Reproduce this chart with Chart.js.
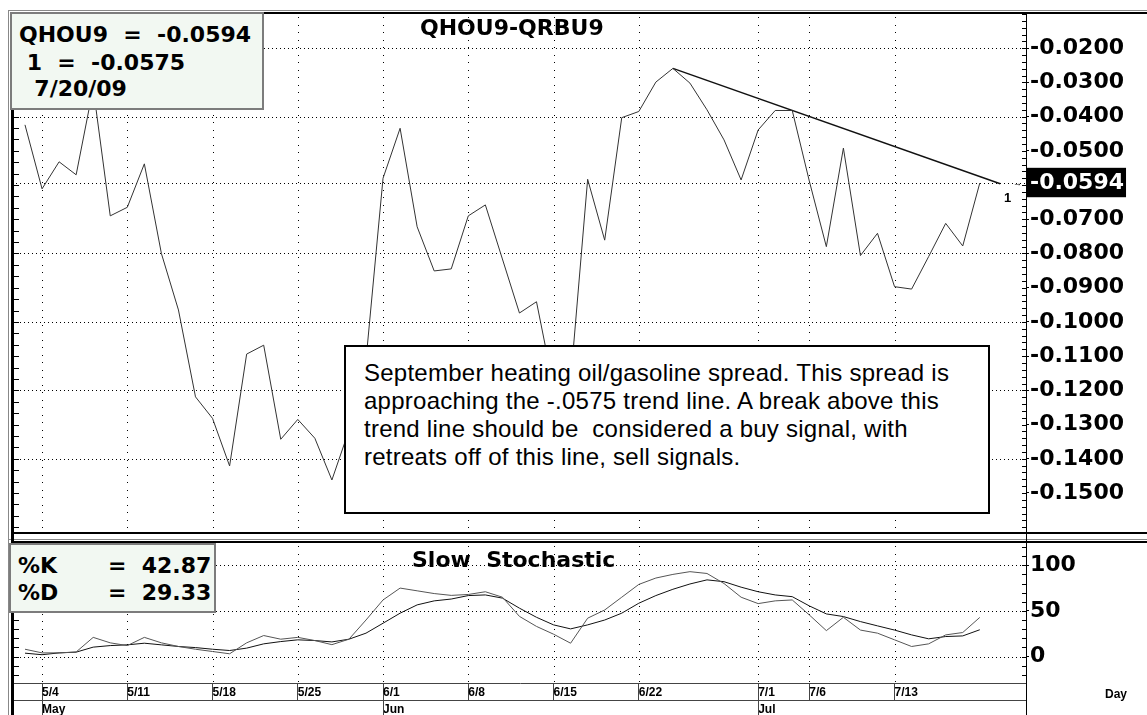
<!DOCTYPE html>
<html>
<head>
<meta charset="utf-8">
<script src="https://cdn.jsdelivr.net/npm/chart.js@4.4.1/dist/chart.umd.min.js"></script>
<style>
  body { margin: 0; background: #fff; width: 1147px; height: 715px; overflow: hidden; position: relative; }
  canvas { position: absolute; left: 0; }
  #spreadChart { top: 0; }
  #stochChart { top: 536px; }
  .lbl { position: absolute; font: bold 22px 'DejaVu Sans', sans-serif; line-height: 26px; white-space: pre; color: #000; }
  .box { position: absolute; box-sizing: border-box; background: #f2f8f2; border: 2px solid #7c7c7c; }
  #note {
    position: absolute; left: 344px; top: 345px; width: 646px; height: 169px; box-sizing: border-box;
    background: #fff; border: 2px solid #000; padding: 12px 0 0 18px;
    font: 24px 'Liberation Sans', Arial, sans-serif; line-height: 28px; letter-spacing: 0.25px; white-space: pre; color: #000;
  }
  .small { position: absolute; font: bold 12px 'Liberation Sans', Arial, sans-serif; line-height: 14px; color: #000; }
</style>
</head>
<body>
<canvas id="spreadChart" width="1147" height="536"></canvas>
<canvas id="stochChart" width="1147" height="179"></canvas>

<div class="box" style="left:10px;top:12px;width:254px;height:98px"></div>
<div class="lbl" id="lastLine" style="left:19px;top:22px"></div>
<div class="lbl" id="trendLine" style="left:19px;top:50px"></div>
<div class="lbl" id="dateLine" style="left:19px;top:76px"></div>
<div class="lbl" style="left:420px;top:15px">QHOU9-QRBU9</div>

<div id="note">September heating oil/gasoline spread. This spread is
approaching the -.0575 trend line. A break above this
trend line should be  considered a buy signal, with
retreats off of this line, sell signals.</div>
<div class="small" style="left:1004px;top:191px;font-size:13px">1</div>
<div class="small" style="left:1013px;top:176px;font-size:9px;font-weight:normal">&rarr;</div>

<div class="box" style="left:9px;top:543px;width:207px;height:70px"></div>
<div class="lbl" style="left:18px;top:553px">%K</div>
<div class="lbl" id="kVal" style="left:108px;top:553px"></div>
<div class="lbl" style="left:18px;top:580px">%D</div>
<div class="lbl" id="dVal" style="left:108px;top:580px"></div>
<div class="lbl" style="left:412px;top:547px">Slow  Stochastic</div>
<div class="small" style="left:1105px;top:687px">Day</div>

<script>
// trading days shown on the chart
const dates = ['5/1', '5/4', '5/5', '5/6', '5/7', '5/8', '5/11', '5/12', '5/13', '5/14', '5/15',
  '5/18', '5/19', '5/20', '5/21', '5/22', '5/25', '5/26', '5/27', '5/28', '5/29',
  '6/1', '6/2', '6/3', '6/4', '6/5', '6/8', '6/9', '6/10', '6/11', '6/12',
  '6/15', '6/16', '6/17', '6/18', '6/19', '6/22', '6/23', '6/24', '6/25', '6/26',
  '6/29', '6/30', '7/1', '7/2', '7/3', '7/6', '7/7', '7/8', '7/9', '7/10',
  '7/13', '7/14', '7/15', '7/16', '7/17', '7/20'];

// QHOU9-QRBU9 spread close
const spread = [-0.0424, -0.0611, -0.0532, -0.0570, -0.0316, -0.0690, -0.0665, -0.0538, -0.0800, -0.0965, -0.1219,
  -0.1282, -0.1421, -0.1094, -0.1068, -0.1343, -0.1285, -0.1340, -0.1462, -0.1317, -0.1112,
  -0.0580, -0.0434, -0.0722, -0.0851, -0.0845, -0.0690, -0.0658, -0.0816, -0.0974, -0.0941,
  -0.1190, -0.1173, -0.0583, -0.0761, -0.0403, -0.0385, -0.0299, -0.0259, -0.0302, -0.0380,
  -0.0468, -0.0585, -0.0439, -0.0382, -0.0382, -0.0588, -0.0780, -0.0492, -0.0806, -0.0741,
  -0.0897, -0.0904, -0.0809, -0.0712, -0.0778, -0.0594];

// trend line "1" (day index, value)
const trendX = [38, 57.2];
const trendY = [-0.0259, -0.0596];
const trendNow = -0.0575;

// slow stochastic
const pctK = [8, 4, 4, 5, 21, 15, 12, 21, 15, 11, 8,
  5.5, 3, 15, 23, 19, 21, 17.5, 13, 19, 40,
  62, 75, 72, 69, 67, 68, 71, 65, 44, 33,
  24.5, 14.6, 42, 51, 65, 79, 86, 90, 93, 91,
  80, 65, 58, 61, 62, 45.6, 28.4, 43, 29, 25.6,
  18.3, 11, 13.9, 23.7, 26.3, 42.87];
const pctD = [3.7, 2, 4, 4.8, 10.3, 12, 12.8, 14.6, 12.8, 11, 9.8,
  8, 6.6, 9.2, 13.9, 16.4, 18.3, 17.5, 16, 19, 25.6,
  36.5, 47.5, 56.6, 61, 63, 66.8, 67.5, 64, 53, 43,
  34.7, 30.3, 34.7, 40, 47.5, 58.4, 66.8, 73.7, 79.5, 84,
  82, 76, 71, 67.5, 65.6, 55.5, 46.7, 43.8, 38.3, 33.6,
  29, 23.7, 19.4, 21.9, 22.6, 29.33];

// axis ticks
const weekStarts = [1, 6, 11, 16, 21, 26, 31, 36, 43, 46, 51];
const monthStarts = { 1: 'May', 21: 'Jun', 43: 'Jul' };
const spreadTicks = [-0.02, -0.03, -0.04, -0.05, -0.0594, -0.07, -0.08, -0.09, -0.10, -0.11, -0.12, -0.13, -0.14, -0.15];
const spreadGrid = [-0.02, -0.04, -0.0594, -0.08, -0.10, -0.12, -0.14];
const stochTicks = [0, 50, 100];

const xMin = -0.645, xMax = 58.71;
const lastIdx = spread.length - 1;

document.getElementById('lastLine').textContent = 'QHOU9  =  ' + spread[lastIdx].toFixed(4);
document.getElementById('trendLine').textContent = ' 1  =  ' + trendNow.toFixed(4);
document.getElementById('dateLine').textContent = '  ' + dates[lastIdx] + '/09';
document.getElementById('kVal').textContent = '=  ' + pctK[lastIdx].toFixed(2);
document.getElementById('dVal').textContent = '=  ' + pctD[lastIdx].toFixed(2);

Chart.defaults.font.family = 'DejaVu Sans';
Chart.defaults.animation = false;

const axisFont = { family: 'DejaVu Sans', weight: 'bold', size: 22 };

function noPad(s) {
  s.paddingTop = 0; s.paddingBottom = 0; s.paddingLeft = 0; s.paddingRight = 0;
}

// dotted grid at the scales' ticks (1px dots)
const dottedGrid = {
  id: 'dottedGrid',
  beforeDatasetsDraw(chart, args, opts) {
    const { ctx, chartArea: a } = chart;
    const x = chart.scales.x, y = chart.scales.y;
    ctx.save();
    ctx.fillStyle = '#000';
    x.ticks.forEach(t => {
      const px = Math.round(x.getPixelForValue(t.value));
      for (let py = a.top + 3; py < a.bottom; py += 7.5) ctx.fillRect(px, Math.round(py), 1, 1);
    });
    y.ticks.forEach(t => {
      if (opts.rows && !opts.rows.includes(t.value)) return;
      const py = Math.round(y.getPixelForValue(t.value));
      for (let px = a.left + 2; px < a.right; px += 4) ctx.fillRect(px, py, 1, 1);
    });
    ctx.restore();
  }
};

// panel frame + small inward tick marks
const spreadFrame = {
  id: 'spreadFrame',
  afterDraw(chart) {
    const { ctx, chartArea: a } = chart;
    const y = chart.scales.y;
    ctx.save();
    ctx.strokeStyle = '#000';
    ctx.lineWidth = 1;
    ctx.beginPath();
    for (let k = 0; k < 100; k++) {
      const py = Math.round(y.getPixelForValue(-0.01 - k * 0.002)) + 0.5;
      if (py > a.bottom) break;
      ctx.moveTo(a.right - 4, py); ctx.lineTo(a.right, py);
    }
    for (let k = 0; k < 100; k++) {
      const py = Math.round(y.getPixelForValue(-0.01 - k * 0.01 / 3)) + 0.5;
      if (py > a.bottom) break;
      ctx.moveTo(a.left, py); ctx.lineTo(a.left + 5, py);
    }
    ctx.stroke();
    ctx.fillStyle = '#888';
    ctx.fillRect(8, 10, chart.width - 8, 1);
    ctx.fillRect(8, 10, 1, chart.height - 10);
    ctx.fillStyle = '#000';
    ctx.fillRect(11, 12, chart.width - 11, 2);
    ctx.fillRect(11, 12, 3, chart.height - 12);
    ctx.fillRect(a.right, a.top, 1, chart.height - a.top);
    ctx.fillRect(11, a.bottom, chart.width - 11, 2);
    ctx.restore();
  }
};

const stochFrame = {
  id: 'stochFrame',
  afterDraw(chart) {
    const { ctx, chartArea: a } = chart;
    const y = chart.scales.y, x = chart.scales.x;
    ctx.save();
    ctx.strokeStyle = '#000';
    ctx.lineWidth = 1;
    ctx.beginPath();
    for (let v = -20; v <= 120; v += 10) {
      const py = Math.round(y.getPixelForValue(v)) + 0.5;
      ctx.moveTo(a.right - 4, py); ctx.lineTo(a.right, py);
      ctx.moveTo(a.left, py); ctx.lineTo(a.left + 5, py);
    }
    ctx.stroke();
    ctx.strokeStyle = '#444';
    ctx.beginPath();
    const rowY = a.bottom + 17.5;
    ctx.moveTo(a.left, rowY); ctx.lineTo(a.right, rowY);
    Object.keys(monthStarts).forEach(i => {
      const px = Math.round(x.getPixelForValue(+i)) + 0.5;
      ctx.moveTo(px, rowY); ctx.lineTo(px, chart.height);
    });
    ctx.stroke();
    ctx.fillStyle = '#888';
    ctx.fillRect(8, 3, chart.width - 8, 1);
    ctx.fillRect(8, 0, 1, chart.height);
    ctx.fillStyle = '#000';
    ctx.fillRect(11, 5, chart.width - 11, 2);
    ctx.fillRect(11, 0, 3, chart.height);
    ctx.fillRect(a.right, 0, 1, chart.height);
    ctx.restore();
  }
};

new Chart(document.getElementById('spreadChart'), {
  type: 'line',
  data: {
    datasets: [{
      data: spread.map((v, i) => ({ x: i, y: v })),
      borderColor: '#333',
      borderWidth: 1,
      pointRadius: 0,
      tension: 0
    }, {
      data: trendX.map((v, i) => ({ x: v, y: trendY[i] })),
      borderColor: '#111',
      borderWidth: 1.5,
      pointRadius: 0
    }]
  },
  options: {
    responsive: false,
    devicePixelRatio: 1,
    layout: { padding: { left: 14, top: 14, right: 0, bottom: 4 } },
    plugins: {
      legend: { display: false },
      tooltip: { enabled: false },
      dottedGrid: { rows: spreadGrid }
    },
    scales: {
      x: {
        type: 'linear',
        min: xMin,
        max: xMax,
        afterBuildTicks: s => { s.ticks = weekStarts.map(v => ({ value: v })); },
        afterFit: s => { s.height = 0; noPad(s); },
        ticks: { display: false },
        grid: { drawOnChartArea: false, drawTicks: false },
        border: { display: false }
      },
      y: {
        position: 'right',
        min: -0.1614,
        max: -0.0100,
        afterBuildTicks: s => { s.ticks = spreadTicks.map(v => ({ value: v })); },
        afterFit: s => { s.width = 121; noPad(s); },
        ticks: {
          autoSkip: false,
          padding: 1,
          font: axisFont,
          color: c => (c.tick && c.tick.value === spread[lastIdx]) ? '#fff' : '#000',
          showLabelBackdrop: c => !!(c.tick && c.tick.value === spread[lastIdx]),
          backdropColor: '#000',
          backdropPadding: { left: 3, right: 2, top: 2, bottom: 1 },
          callback: v => v.toFixed(4)
        },
        grid: { drawOnChartArea: false, tickColor: '#000', tickLength: 3 },
        border: { display: true, color: '#000', width: 1 }
      }
    }
  },
  plugins: [dottedGrid, spreadFrame]
});

new Chart(document.getElementById('stochChart'), {
  type: 'line',
  data: {
    datasets: [{
      data: pctK.map((v, i) => ({ x: i, y: v })),
      borderColor: '#555',
      borderWidth: 1,
      pointRadius: 0
    }, {
      data: pctD.map((v, i) => ({ x: i, y: v })),
      borderColor: '#111',
      borderWidth: 1,
      pointRadius: 0
    }]
  },
  options: {
    responsive: false,
    devicePixelRatio: 1,
    layout: { padding: { left: 14, top: 7, right: 0, bottom: 0 } },
    plugins: {
      legend: { display: false },
      tooltip: { enabled: false },
      dottedGrid: { rows: stochTicks }
    },
    scales: {
      x: {
        type: 'linear',
        min: xMin,
        max: xMax,
        afterBuildTicks: s => { s.ticks = weekStarts.map(v => ({ value: v })); },
        afterFit: s => { s.height = 32; noPad(s); },
        ticks: {
          autoSkip: false,
          maxRotation: 0,
          minRotation: 0,
          align: 'start',
          padding: -15,
          color: '#000',
          font: { family: 'Liberation Sans', weight: 'bold', size: 12, lineHeight: 1.35 },
          callback: v => monthStarts[v] ? [dates[v], monthStarts[v]] : dates[v]
        },
        grid: { drawOnChartArea: false, tickColor: '#444', tickLength: 17 },
        border: { display: true, color: '#444', width: 1 }
      },
      y: {
        position: 'right',
        min: -29,
        max: 124.4,
        afterBuildTicks: s => { s.ticks = stochTicks.map(v => ({ value: v })); },
        afterFit: s => { s.width = 121; noPad(s); },
        ticks: { autoSkip: false, padding: 1, font: axisFont, color: '#000' },
        grid: { drawOnChartArea: false, tickColor: '#000', tickLength: 3 },
        border: { display: true, color: '#000', width: 1 }
      }
    }
  },
  plugins: [dottedGrid, stochFrame]
});
</script>
</body>
</html>
